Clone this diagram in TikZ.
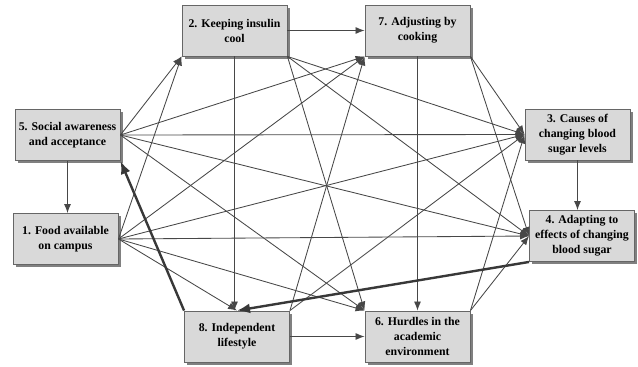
\documentclass[tikz,border=0pt]{standalone}
\usepackage{fontspec}
\setmainfont{Liberation Serif}
\usetikzlibrary{arrows.meta,shadows}
\begin{document}
\begin{tikzpicture}[x=1pt,y=-1pt,
  box/.style={draw=black!60,line width=0.9pt,fill=black!15,minimum width=105pt,minimum height=51pt,
    align=center,inner sep=1pt,font=\bfseries\fontsize{11.8}{15}\selectfont,
    drop shadow={shadow xshift=2.5pt,shadow yshift=-2.5pt,fill=black!50,opacity=1}},
  edge/.style={draw=black!72,line width=0.85pt,-{Latex[length=9pt,width=7pt]}},
  thick edge/.style={draw=black!78,line width=2.4pt,-{Latex[length=13pt,width=10pt]}}]
\useasboundingbox (0,0) rectangle (638,367);
\node[box] (n2) at (234.5,30.5) {2. Keeping insulin\\cool};
\node[box] (n7) at (417.5,30.5) {7. Adjusting by\\cooking};
\node[box] (n5) at (67.5,135) {5. Social awareness\\and acceptance};
\node[box] (n3) at (577.5,134.5) {3. Causes of\\changing blood\\sugar levels};
\node[box] (n1) at (65.5,239) {1. Food available\\on campus};
\node[box] (n4) at (582,236) {4. Adapting to\\effects of changing\\blood sugar};
\node[box] (n8) at (237,336.5) {8. Independent\\lifestyle};
\node[box] (n6) at (417.5,336.5) {6. Hurdles in the\\academic\\environment};
% straight connectors
\draw[edge] (n5.south) -- (n5.south |- n1.north);
\draw[edge] (n2.east) -- (n7.west);
\draw[edge] (n8.east) -- (n6.west);
\draw[edge] (n2.south) -- (n2.south |- n8.north);
\draw[edge] (n7.south) -- (n7.south |- n6.north);
\draw[edge] (n3.south) -- (n3.south |- n4.north);
% from 5
\draw[edge] (n5.east) -- (n2.south west);
\draw[edge] (n5.east) -- (n7.south west);
\draw[edge] (n5.east) -- (n3.west);
\draw[edge] (n5.east) -- (n4.west);
\draw[edge] (n5.east) -- (n6.north west);
% from 1
\draw[edge] (n1.east) -- (n2.south west);
\draw[edge] (n1.east) -- (n7.south west);
\draw[edge] (n1.east) -- (n3.west);
\draw[edge] (n1.east) -- (n4.west);
\draw[edge] (n1.east) -- (n6.north west);
\draw[edge] (n1.east) -- (n8.north);
% from 2
\draw[edge] (n2.south east) -- (n3.west);
\draw[edge] (n2.south east) -- (n4.west);
\draw[edge] (n2.south east) -- (n6.north west);
% from 7
\draw[edge] (n7.south east) -- (n3.west);
\draw[edge] (n7.south east) -- (n4.west);
% from 8
\draw[edge] (n8.north east) -- (n7.south west);
\draw[edge] (n8.north east) -- (n3.west);
% from 6
\draw[edge] (n6.north east) -- (n3.west);
\draw[edge] (n6.north east) -- (n4.west);
% thick
\draw[thick edge] (n8.north west) -- (n5.south east);
\draw[thick edge] (n4.south west) -- (n8.north);
\end{tikzpicture}
\end{document}
